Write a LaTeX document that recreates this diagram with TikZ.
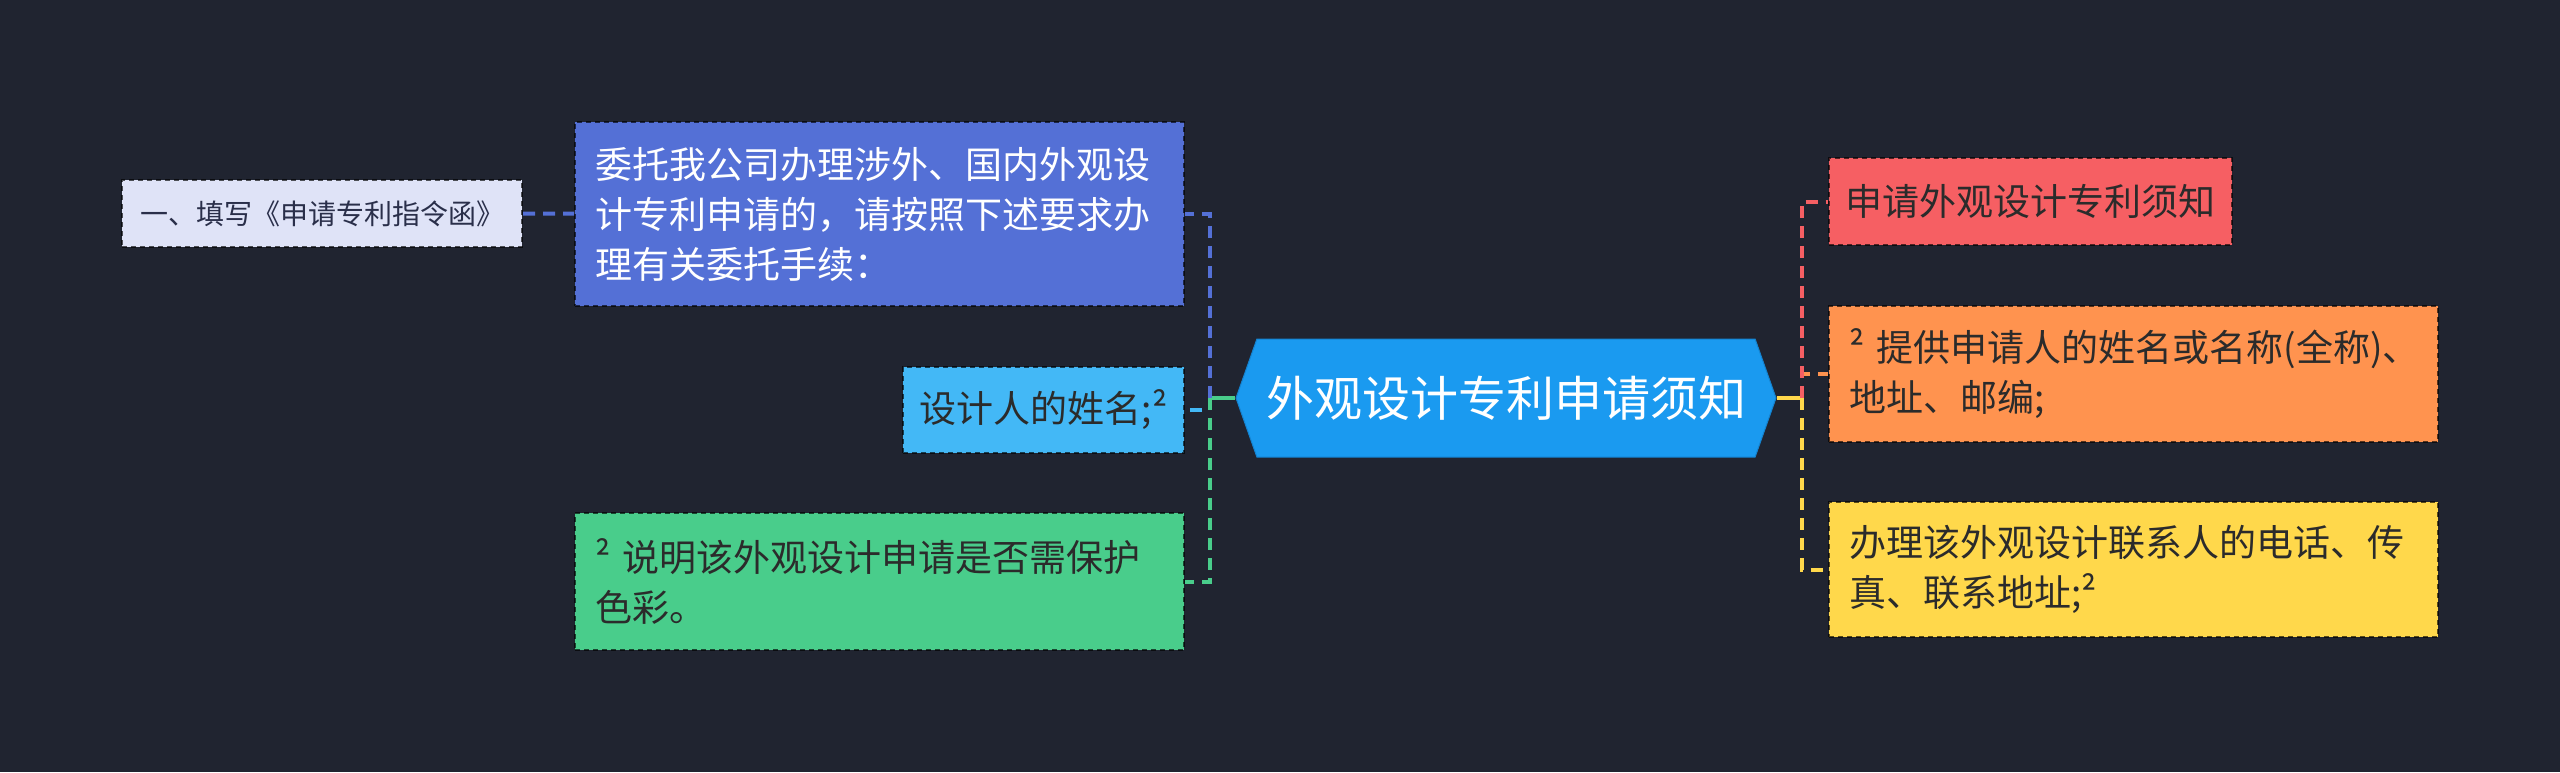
\documentclass[tikz,border=0pt]{standalone}
\usepackage{fontspec}
\setmainfont{Noto Sans CJK SC}
\usetikzlibrary{shapes.symbols}
\definecolor{bg}{HTML}{202430}
\definecolor{ink}{HTML}{2B2B2B}
\definecolor{tipfill}{HTML}{DFE3F7}
\definecolor{tipink}{HTML}{2A2F4A}
\definecolor{bluefill}{HTML}{5470D6}
\definecolor{skyfill}{HTML}{43B8F6}
\definecolor{greenfill}{HTML}{49CD8B}
\definecolor{rootfill}{HTML}{1A9AF0}
\definecolor{rootline}{HTML}{1483D0}
\definecolor{redfill}{HTML}{F65F63}
\definecolor{orangefill}{HTML}{FF934F}
\definecolor{yellowfill}{HTML}{FFD84B}
\begin{document}
\begin{tikzpicture}[x=1pt,y=-1pt,box/.style={draw=black,draw opacity=0.65,dash pattern=on 5pt off 4pt,line width=2pt,inner xsep=20pt,inner ysep=0pt,text=ink,font=\fontsize{37}{50}\selectfont},wide/.style={box,text width=569pt,align=left},link/.style={line width=4pt,dash pattern=on 12pt off 8pt},stem/.style={line width=4pt}]
\fill[bg] (0,0) rectangle (2560,772);
\useasboundingbox (0,0) rectangle (2560,772);
\node[box,fill=tipfill,minimum width=400pt,minimum height=67pt,inner xsep=0pt,text=tipink,font=\fontsize{28}{34}\selectfont] (tip) at (322,213.5) {一、填写《申请专利指令函》};
\node[wide,fill=bluefill,minimum height=184pt,text=white] (entrust) at (879.5,214) {委托我公司办理涉外、国内外观设\\计专利申请的，请按照下述要求办\\理有关委托手续：};
\node[box,fill=skyfill,minimum width=281pt,minimum height=86pt,inner xsep=0pt] (designer) at (1043.5,410) {设计人的姓名;²};
\node[wide,fill=greenfill,minimum height=137pt] (colour) at (879.5,581.5) {² 说明该外观设计申请是否需保护\\色彩。};
\node[signal,signal to=west and east,signal pointer angle=141,fill=rootfill,draw=rootline,line width=1pt,minimum width=540pt,minimum height=118pt,inner sep=0pt,text=white,font=\fontsize{48}{56}\selectfont] (root) at (1506,398) {外观设计专利申请须知};
\node[box,fill=redfill,minimum width=403pt,minimum height=87pt,inner xsep=0pt] (notice) at (2030.5,201.5) {申请外观设计专利须知};
\node[wide,fill=orangefill,minimum height=136pt] (applicant) at (2133.5,374) {² 提供申请人的姓名或名称(全称)、\\地址、邮编;};
\node[wide,fill=yellowfill,minimum height=135pt] (contact) at (2133.5,569.5) {办理该外观设计联系人的电话、传\\真、联系地址;²};
\coordinate (lhub) at (1210,398);
\coordinate (rhub) at (1802,398);
\draw[link,bluefill] (tip) -- (entrust);
\draw[stem,greenfill] (root.west) -- (lhub);
\draw[link,bluefill] (lhub) |- (entrust.east);
\draw[link,skyfill] (lhub) |- (designer.east);
\draw[link,greenfill] (lhub) |- (colour.east);
\draw[stem,yellowfill] (root.east) -- (rhub);
\draw[link,orangefill] (rhub) |- (applicant.west);
\draw[link,redfill] (rhub) |- (notice.west);
\draw[link,yellowfill] (rhub) |- (contact.west);
\end{tikzpicture}
\end{document}
